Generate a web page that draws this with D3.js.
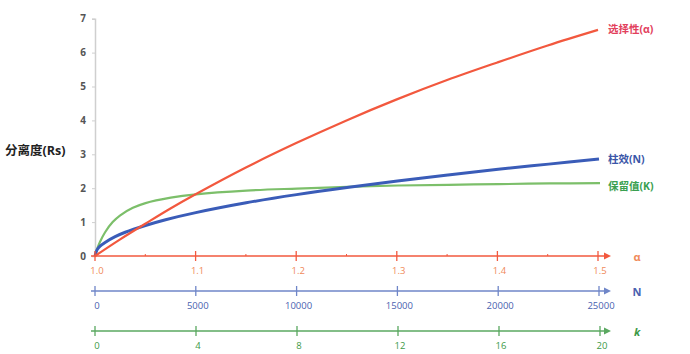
<!DOCTYPE html>
<html>
<head>
<meta charset="utf-8">
<script src="https://cdn.jsdelivr.net/npm/d3@7"></script>
<style>
  body { margin: 0; background: #fff; }
  text { font-family: "Open Sans", "Noto Sans CJK SC", sans-serif; }
</style>
</head>
<body>
<div id="chart"></div>
<script>
// values
var alphaX = [1.0, 1.025, 1.05, 1.075, 1.10, 1.15, 1.20, 1.25, 1.30, 1.35, 1.40, 1.45, 1.50];
var alphaRs = [0, 0.49, 0.95, 1.4, 1.82, 2.61, 3.33, 4.0, 4.62, 5.19, 5.71, 6.21, 6.67];

var nX = [0, 100, 250, 500, 1000, 1500, 2500, 3500, 5000, 7500, 10000, 12500, 15000, 17500, 20000, 22500, 25000];
var nRs = [0, 0.18, 0.29, 0.4, 0.57, 0.7, 0.9, 1.07, 1.28, 1.57, 1.81, 2.02, 2.21, 2.39, 2.56, 2.71, 2.86];

var kX = [0, 0.1, 0.2, 0.4, 0.7, 1, 1.5, 2, 3, 4, 6, 8, 10, 12, 14, 16, 18, 20];
var kRs = [0, 0.24, 0.42, 0.7, 1.0, 1.2, 1.42, 1.56, 1.72, 1.82, 1.93, 1.99, 2.04, 2.08, 2.1, 2.12, 2.14, 2.15];

var yTicks = [0, 1, 2, 3, 4, 5, 6, 7];
var alphaTicks = [1.0, 1.1, 1.2, 1.3, 1.4, 1.5];
var alphaMinor = [1.05, 1.15, 1.25, 1.35, 1.45];
var nTicks = [0, 5000, 10000, 15000, 20000, 25000];
var kTicks = [0, 4, 8, 12, 16, 20];

var W = 690, H = 354;
var x0 = 95, x1 = 598;

var svg = d3.select("#chart").append("svg").attr("width", W).attr("height", H);

var y = d3.scaleLinear().domain([0, 7]).range([256, 18.7]);
var xa = d3.scaleLinear().domain([1.0, 1.5]).range([x0, x1]);
var xn = d3.scaleLinear().domain([0, 25000]).range([x0, x1 + 1]);
var xk = d3.scaleLinear().domain([0, 20]).range([x0, x1 + 2]);

// y axis
var yAxis = svg.append("g").attr("transform", "translate(" + x0 + ",0)")
    .call(d3.axisLeft(y).tickValues(yTicks).tickSize(3).tickPadding(6).tickFormat(d3.format("d")));
yAxis.select(".domain").attr("stroke", "#cfcfcf").attr("stroke-width", 1.5);
yAxis.selectAll(".tick line").attr("stroke", "#cfcfcf");
yAxis.selectAll(".tick text").attr("fill", "#555").attr("font-size", 10).attr("font-weight", "bold");

svg.append("text").attr("x", 5).attr("y", 155).attr("font-size", 12.5).attr("font-weight", "bold")
    .attr("fill", "#222").text("分离度(Rs)");

// curves
var line = function(sx, xs, ys) {
  return d3.line().x(function(d, i) { return sx(xs[i]); }).y(function(d) { return y(d); })
    .curve(d3.curveCatmullRom.alpha(0.5))(ys);
};
svg.append("path").attr("d", line(xk, kX, kRs)).attr("fill", "none").attr("stroke", "#7cbf6a").attr("stroke-width", 2.2);
svg.append("path").attr("d", line(xn, nX, nRs)).attr("fill", "none").attr("stroke", "#3a5cb8").attr("stroke-width", 3);
svg.append("path").attr("d", line(xa, alphaX, alphaRs)).attr("fill", "none").attr("stroke", "#f2583e").attr("stroke-width", 2.2);

svg.append("text").attr("x", 608).attr("y", 33).attr("font-size", 10.5).attr("font-weight", "bold")
    .attr("fill", "#e2405c").text("选择性(α)");
svg.append("text").attr("x", 608).attr("y", 163).attr("font-size", 10.5).attr("font-weight", "bold")
    .attr("fill", "#3a56a8").text("柱效(N)");
svg.append("text").attr("x", 608).attr("y", 190).attr("font-size", 10.5).attr("font-weight", "bold")
    .attr("fill", "#3aa050").text("保留值(K)");

// horizontal axes with arrows
function hAxis(yy, scale, ticks, fmt, lineCol, textCol, name, italic, minor) {
  var g = svg.append("g");
  g.append("line").attr("x1", x0 - 4).attr("x2", 606).attr("y1", yy).attr("y2", yy)
    .attr("stroke", lineCol).attr("stroke-width", 1.6);
  g.append("path").attr("d", "M604," + (yy - 3.5) + "L611," + yy + "L604," + (yy + 3.5) + "Z").attr("fill", lineCol);
  g.selectAll(".maj").data(ticks).enter().append("line")
    .attr("x1", function(d) { return scale(d); }).attr("x2", function(d) { return scale(d); })
    .attr("y1", yy - 5).attr("y2", yy + 5).attr("stroke", lineCol).attr("stroke-width", 1.3);
  if (minor) {
    g.selectAll(".min").data(minor).enter().append("line")
      .attr("x1", function(d) { return scale(d); }).attr("x2", function(d) { return scale(d); })
      .attr("y1", yy - 2).attr("y2", yy).attr("stroke", lineCol).attr("stroke-width", 1);
  }
  g.selectAll(".lab").data(ticks).enter().append("text")
    .attr("x", function(d) { return scale(d) + 2; }).attr("y", yy + 18)
    .attr("text-anchor", "middle").attr("font-size", 9.5).attr("fill", textCol)
    .text(fmt);
  g.append("text").attr("x", 637).attr("y", yy + 5).attr("text-anchor", "middle")
    .attr("font-size", 11).attr("font-weight", "bold").attr("fill", textCol)
    .attr("font-style", italic ? "italic" : "normal").text(name);
}

hAxis(256, xa, alphaTicks, d3.format(".1f"), "#f2583e", "#f08a5a", "α", false, alphaMinor);
hAxis(291, xn, nTicks, d3.format("d"), "#6f86c8", "#4a62b0", "N", false, null);
hAxis(331, xk, kTicks, d3.format("d"), "#5aa860", "#3e9a48", "k", true, null);
</script>
</body>
</html>
